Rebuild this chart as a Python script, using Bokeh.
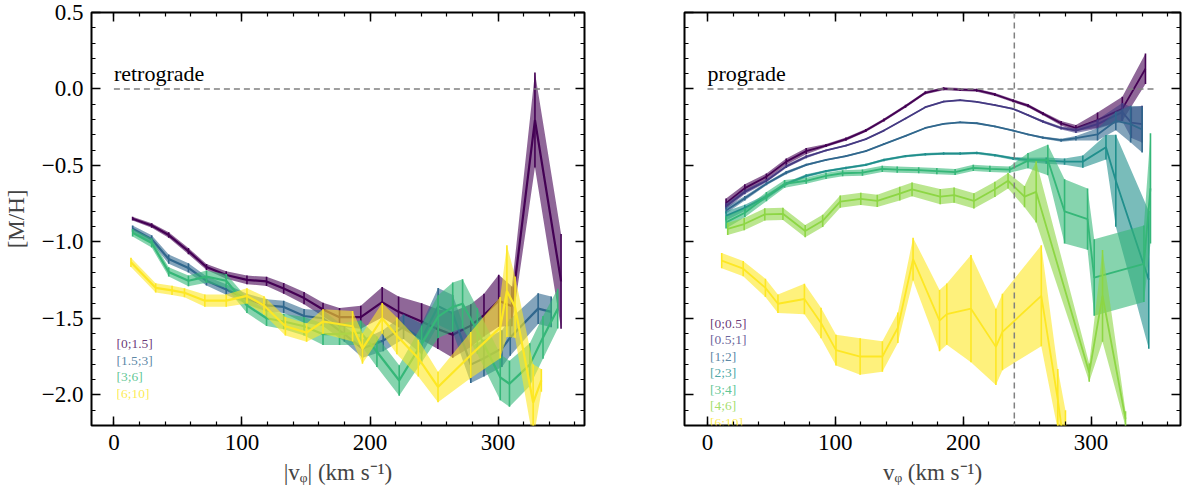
from bokeh.plotting import figure
from bokeh.models import Range1d, LinearAxis, FixedTicker, CustomJSTickFormatter, Span
from bokeh.layouts import row
from bokeh.palettes import viridis
from bokeh.core.properties import value
from bokeh.embed import file_html
from bokeh.resources import INLINE

FONT = "Liberation Serif"

# ---- retrograde panel: four bins ----
ret_labels = ["[0;1.5]", "[1.5;3]", "[3;6]", "[6;10]"]
ret_x = [
    [14.6, 29.5, 42.8, 58.2, 72.3, 87.7, 103.9, 119.2, 132.6, 148.5, 163.3, 176.2, 192.8, 209.5, 222.3, 240.3, 253.0, 264.6, 278.7, 289.0, 300.5, 310.8, 328.8, 349.2],
    [14.6, 29.5, 42.8, 58.2, 72.3, 87.7, 103.9, 119.2, 132.6, 148.5, 163.3, 180.0, 194.1, 210.3, 226.2, 240.3, 253.2, 264.6, 278.7, 289.0, 303.0, 309.5, 331.3, 341.5],
    [14.6, 29.5, 42.8, 58.2, 72.3, 87.7, 103.9, 119.2, 132.6, 148.5, 163.3, 176.2, 192.8, 205.4, 222.8, 240.3, 253.2, 264.6, 272.3, 283.8, 301.7, 308.9, 324.8, 335.1, 346.6],
    [13.3, 32.6, 45.4, 55.1, 71.0, 87.7, 103.9, 117.2, 133.9, 150.5, 163.3, 186.4, 194.1, 209.5, 221.0, 237.7, 253.1, 278.7, 301.7, 306.9, 313.3, 327.4, 333.8],
]
ret_y = [
    [-0.848, -0.893, -0.955, -1.060, -1.164, -1.216, -1.248, -1.258, -1.304, -1.367, -1.442, -1.492, -1.492, -1.394, -1.457, -1.520, -1.570, -1.607, -1.547, -1.478, -1.384, -1.421, -0.203, -1.258],
    [-0.913, -0.982, -1.112, -1.170, -1.254, -1.311, -1.373, -1.415, -1.425, -1.484, -1.499, -1.603, -1.697, -1.645, -1.555, -1.635, -1.421, -1.467, -1.802, -1.760, -1.697, -1.624, -1.436, -1.457],
    [-0.940, -1.007, -1.196, -1.254, -1.227, -1.254, -1.415, -1.499, -1.520, -1.551, -1.603, -1.603, -1.593, -1.718, -1.906, -1.666, -1.488, -1.425, -1.404, -1.582, -1.885, -1.927, -1.802, -1.624, -1.436],
    [-1.133, -1.300, -1.317, -1.332, -1.384, -1.384, -1.353, -1.415, -1.551, -1.593, -1.520, -1.551, -1.697, -1.499, -1.614, -1.760, -1.948, -1.739, -1.560, -1.321, -1.426, -2.050, -1.905],
]
ret_err = [
    [0.012, 0.015, 0.018, 0.02, 0.02, 0.025, 0.028, 0.03, 0.035, 0.04, 0.045, 0.06, 0.075, 0.1, 0.1, 0.12, 0.13, 0.15, 0.14, 0.14, 0.17, 0.13, 0.31, 0.31],
    [0.02, 0.025, 0.03, 0.03, 0.03, 0.035, 0.035, 0.04, 0.04, 0.045, 0.05, 0.05, 0.06, 0.07, 0.08, 0.1, 0.12, 0.12, 0.12, 0.12, 0.12, 0.12, 0.1, 0.1],
    [0.025, 0.03, 0.03, 0.035, 0.04, 0.045, 0.05, 0.05, 0.05, 0.06, 0.07, 0.07, 0.08, 0.1, 0.1, 0.12, 0.14, 0.16, 0.16, 0.15, 0.15, 0.15, 0.14, 0.14, 0.13],
    [0.03, 0.03, 0.03, 0.03, 0.04, 0.04, 0.05, 0.06, 0.06, 0.06, 0.08, 0.1, 0.1, 0.1, 0.12, 0.12, 0.1, 0.15, 0.2, 0.3, 0.2, 0.25, 0.075],
]

# ---- prograde panel: seven bins ----
pro_labels = ["[0;0.5]", "[0.5;1]", "[1;2]", "[2;3]", "[3;4]", "[4;6]", "[6;10]"]
pro_x = [
    [14.5, 29.2, 46.1, 61.6, 77.2, 92.7, 108.3, 123.8, 138.0, 154.9, 170.4, 184.7, 197.6, 210.6, 224.8, 239.1, 250.7, 262.4, 276.6, 288.2, 305.1, 324.5, 342.6],
    [14.5, 29.2, 46.1, 61.6, 77.2, 92.7, 108.3, 123.8, 138.0, 154.9, 170.4, 184.7, 197.6, 210.6, 224.8, 239.1, 250.7, 262.4, 276.6, 288.2, 305.1, 324.5, 331.5, 340.0],
    [14.5, 29.2, 46.1, 61.6, 77.2, 92.7, 108.3, 123.8, 138.0, 154.9, 170.4, 184.7, 197.6, 210.6, 224.8, 239.1, 250.7, 262.4, 276.6, 288.2, 305.1, 319.4, 331.0, 340.0],
    [14.5, 29.2, 46.1, 61.6, 77.2, 92.7, 108.3, 123.8, 138.0, 154.9, 170.4, 184.7, 197.6, 210.6, 224.8, 239.1, 250.7, 265.0, 279.3, 293.6, 311.7, 319.4, 345.2],
    [14.5, 29.2, 46.1, 60.3, 77.2, 92.7, 105.7, 121.2, 136.7, 148.4, 165.2, 179.4, 193.7, 207.9, 220.9, 236.4, 250.7, 266.2, 279.3, 297.3, 302.5, 341.4, 346.5],
    [15.8, 28.7, 44.8, 59.0, 76.4, 90.1, 103.8, 119.9, 132.8, 150.4, 160.0, 182.0, 192.9, 208.4, 224.8, 235.1, 248.0, 257.1, 298.6, 309.0, 327.0],
    [11.1, 27.9, 45.3, 55.1, 75.8, 88.8, 100.5, 119.4, 136.8, 148.9, 160.8, 181.5, 187.2, 206.1, 225.6, 230.7, 261.1, 274.0, 280.0],
]
pro_y = [
    [-0.746, -0.648, -0.573, -0.475, -0.406, -0.370, -0.328, -0.272, -0.203, -0.113, -0.025, 0.002, -0.004, -0.008, -0.036, -0.077, -0.109, -0.161, -0.224, -0.255, -0.203, -0.130, 0.132],
    [-0.767, -0.673, -0.600, -0.506, -0.443, -0.402, -0.370, -0.328, -0.272, -0.193, -0.119, -0.082, -0.073, -0.084, -0.105, -0.130, -0.171, -0.213, -0.255, -0.272, -0.230, -0.151, -0.220, -0.230],
    [-0.794, -0.714, -0.620, -0.547, -0.496, -0.464, -0.439, -0.406, -0.360, -0.307, -0.255, -0.228, -0.218, -0.224, -0.245, -0.272, -0.297, -0.318, -0.335, -0.322, -0.297, -0.209, -0.230, -0.265],
    [-0.830, -0.777, -0.704, -0.620, -0.568, -0.537, -0.516, -0.496, -0.464, -0.439, -0.427, -0.422, -0.422, -0.418, -0.433, -0.454, -0.464, -0.468, -0.475, -0.475, -0.381, -0.600, -1.248],
    [-0.872, -0.809, -0.704, -0.620, -0.600, -0.568, -0.551, -0.547, -0.522, -0.527, -0.531, -0.537, -0.543, -0.516, -0.522, -0.527, -0.468, -0.464, -0.800, -0.851, -1.233, -1.143, -0.650],
    [-0.914, -0.883, -0.820, -0.816, -0.929, -0.862, -0.736, -0.719, -0.732, -0.684, -0.656, -0.704, -0.694, -0.732, -0.656, -0.600, -0.704, -0.673, -1.854, -1.352, -2.157],
    [-1.122, -1.175, -1.300, -1.404, -1.373, -1.530, -1.707, -1.749, -1.749, -1.561, -1.112, -1.514, -1.472, -1.436, -1.686, -1.588, -1.352, -2.030, -2.400],
]
pro_err = [
    [0.03, 0.025, 0.02, 0.02, 0.02, 0.01, 0.01, 0.01, 0.01, 0.01, 0.01, 0.01, 0.01, 0.01, 0.01, 0.01, 0.01, 0.01, 0.015, 0.02, 0.05, 0.08, 0.1],
    [0.02, 0.015, 0.01, 0.01, 0.01, 0.005, 0.005, 0.005, 0.005, 0.005, 0.005, 0.005, 0.005, 0.005, 0.005, 0.005, 0.005, 0.008, 0.01, 0.015, 0.03, 0.06, 0.1, 0.12],
    [0.02, 0.015, 0.01, 0.01, 0.008, 0.005, 0.005, 0.005, 0.005, 0.005, 0.005, 0.005, 0.005, 0.005, 0.005, 0.005, 0.005, 0.008, 0.01, 0.015, 0.04, 0.06, 0.12, 0.15],
    [0.03, 0.02, 0.015, 0.01, 0.01, 0.008, 0.008, 0.008, 0.008, 0.008, 0.008, 0.008, 0.008, 0.008, 0.008, 0.01, 0.015, 0.02, 0.02, 0.04, 0.08, 0.3, 0.45],
    [0.04, 0.03, 0.03, 0.025, 0.02, 0.02, 0.02, 0.02, 0.02, 0.02, 0.02, 0.02, 0.02, 0.02, 0.02, 0.02, 0.05, 0.1, 0.21, 0.2, 0.25, 0.25, 0.36],
    [0.04, 0.04, 0.04, 0.04, 0.04, 0.04, 0.04, 0.04, 0.04, 0.045, 0.045, 0.05, 0.05, 0.05, 0.05, 0.05, 0.07, 0.2, 0.06, 0.3, 0.05],
    [0.05, 0.05, 0.06, 0.06, 0.1, 0.1, 0.1, 0.12, 0.1, 0.1, 0.14, 0.2, 0.2, 0.35, 0.25, 0.25, 0.33, 0.2, 0.3],
]

x_ticks = [0, 100, 200, 300]
x_minor = list(range(-20, 381, 20))
y_ticks = [-2.0, -1.5, -1.0, -0.5, 0.0, 0.5]
y_minor = [round(-2.2 + 0.1 * i, 1) for i in range(28)]
zero_x = [0, 350]
zero_y = [0, 0]
v_sun = 240


def hide_labels(ax):
    ax.major_label_text_color = None
    ax.major_label_text_font_size = "0px"
    ax.major_label_standoff = 0


def add_frame_axes(p, show_ylabels):
    xt = FixedTicker(ticks=x_ticks, minor_ticks=x_minor)
    yt = FixedTicker(ticks=y_ticks, minor_ticks=y_minor)
    p.add_layout(LinearAxis(), "above")
    p.add_layout(LinearAxis(), "right")
    for ax in p.xaxis:
        ax.ticker = xt
    for ax in p.yaxis:
        ax.ticker = yt
        ax.formatter = CustomJSTickFormatter(code="return tick.toFixed(1).replace('-', '\u2212')")
    for ax in p.axis:
        ax.axis_line_color = None
        ax.major_tick_in = 9
        ax.major_tick_out = 0
        ax.minor_tick_in = 4
        ax.minor_tick_out = 0
        ax.major_tick_line_width = 1.5
        ax.minor_tick_line_width = 1.2
        ax.major_tick_line_color = "black"
        ax.minor_tick_line_color = "black"
        ax.major_label_text_font = FONT
        ax.major_label_text_font_size = "23px"
        ax.major_label_text_color = "black"
        ax.axis_label_text_font = FONT
        ax.axis_label_text_font_size = "23px"
        ax.axis_label_text_font_style = "normal"
    hide_labels(p.above[0])
    hide_labels(p.right[0])
    if not show_ylabels:
        hide_labels(p.left[0])
    p.below[0].major_label_standoff = 9
    p.below[0].axis_label_standoff = 7
    p.left[0].major_label_standoff = 8
    p.left[0].axis_label_standoff = 10


def make_panel(xs, ys, es, labels, name, xlabel, show_ylabels, xr, legend_top, lw, width, bl, br):
    p = figure(width=width, height=487, output_backend="svg", toolbar_location=None,
               x_range=Range1d(*xr), y_range=Range1d(-2.2, 0.5),
               min_border_left=bl, min_border_right=br, min_border_top=12, min_border_bottom=56)
    p.grid.visible = False
    p.outline_line_color = "black"
    p.outline_line_width = 2
    p.background_fill_color = "white"
    p.border_fill_color = "white"
    add_frame_axes(p, show_ylabels)
    p.below[0].axis_label = xlabel
    if show_ylabels:
        p.left[0].axis_label = "[M/H]"

    colors = viridis(len(labels))
    for x, y, e, c in zip(xs, ys, es, colors):
        lo = [yy - ee for yy, ee in zip(y, e)]
        hi = [yy + ee for yy, ee in zip(y, e)]
        p.varea(x=x, y1=lo, y2=hi, fill_color=c, fill_alpha=0.6)
        p.segment(x0=x, y0=lo, x1=x, y1=hi, line_color=c, line_width=1.6)
        p.line(x, y, line_color=c, line_width=lw)

    p.line(zero_x, zero_y, line_color="gray", line_dash="6 4", line_width=1.5)
    p.text(x=[0], y=[0.1], text=[name], text_font=value(FONT), text_font_size="22px",
           text_color="black", text_baseline="alphabetic")
    step = 0.108
    ly = [legend_top - step * i for i in range(len(labels))]
    p.text(x=[2] * len(labels), y=ly, text=labels, text_color=colors, text_alpha=0.8,
           text_font=value(FONT), text_font_size="13.5px", text_baseline="alphabetic")
    return p


p1 = make_panel(ret_x, ret_y, ret_err, ret_labels, "retrograde", "|v\u1d69| (km s\u207b\u00b9)",
                True, (-17.5, 367.5), -1.666, 2.2, 634, 84, 50)
p2 = make_panel(pro_x, pro_y, pro_err, pro_labels, "prograde", "v\u1d69 (km s\u207b\u00b9)",
                False, (-18, 370), -1.53, 1.8, 550, 50, 4)
p2.add_layout(Span(location=v_sun, dimension="height", line_color="gray",
                   line_dash="6 4", line_width=1.5))

layout = row(p1, p2)
open("out.html", "w").write(file_html(layout, INLINE))
